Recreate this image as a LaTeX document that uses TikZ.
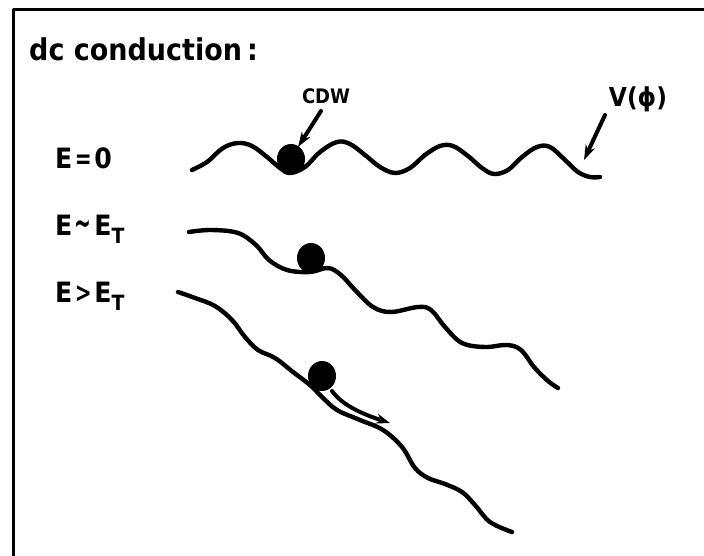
\documentclass[tikz,border=0pt]{standalone}
\usepackage{fontspec}
\usepackage{graphicx}
\setmainfont{DejaVu Sans Condensed}
\usetikzlibrary{arrows.meta,shapes.geometric}
\newcommand{\subT}{\raisebox{-8pt}{\fontsize{21}{21}\selectfont T}}
\newcommand{\relsym}[1]{\kern2.5pt\scalebox{0.8}[1]{#1}\kern2.5pt}
\begin{document}
\begin{tikzpicture}[x=1pt,y=-1pt,line cap=round,line join=round,
  frame/.style={line width=3pt},
  curve/.style={line width=4.4pt},
  ball/.style={ellipse,fill=black,inner sep=0pt,minimum width=28pt,minimum height=30pt},
  lbl/.style={font=\bfseries\fontsize{28}{28}\selectfont,inner sep=0pt,anchor=base west},
  small/.style={font=\bfseries\fontsize{20}{20}\selectfont,inner sep=0pt},
  pointer/.style={line width=4pt,-{Stealth[length=15pt,width=10pt]}}]
\useasboundingbox (0,0) rectangle (704,556);
\draw[frame] (704,10) -- (13,10) -- (13,556);

% headings and field labels
\node[lbl,font=\bfseries\fontsize{30}{30}\selectfont] (title) at (29,61) {dc conduction\,:};
\node[lbl] (e0) at (55,169) {E\relsym{=}0};
\node[lbl] (e1) at (55,236) {E\relsym{\scalebox{1}[1.3]{\textasciitilde}}E\subT};
\node[lbl] (e2) at (55,302) {E\relsym{>}E\subT};

% E = 0 : periodic pinning potential
\draw[curve] plot[smooth,tension=0.6] coordinates {
 (192,170) (207,162) (223,148) (238,143) (252,146) (267,157) (280,168)
 (290,173) (305,167) (320,152) (337,142) (350,144) (365,155) (380,167)
 (395,173) (410,168) (425,155) (440,146) (453,146) (468,156) (482,168)
 (494,174) (508,170) (522,157) (537,147) (550,147) (565,160) (578,172)
 (590,177) (600,177)};
\node[ball] (b0) at (291,159) {};

% E ~ E_T : tilted potential, CDW still held
\draw[curve] plot[smooth,tension=0.6] coordinates {
 (189,232) (211,230) (238,233) (256,245) (269,260) (287,270) (310,272)
 (328,268) (341,275) (355,290) (373,307) (391,312) (418,307) (431,310)
 (445,327) (462,343) (485,347) (507,345) (521,350) (534,367) (548,381)
 (558,388)};
\node[ball] (b1) at (311,258) {};

% E > E_T : CDW slides
\draw[curve] plot[smooth,tension=0.6] coordinates {
 (178,292) (195,298) (215,306) (232,320) (245,337) (258,350) (275,358)
 (293,372) (310,385) (322,397) (337,410) (360,420) (383,430) (402,447)
 (415,468) (428,478) (445,484) (462,492) (475,505) (490,522) (512,532)};
\node[ball] (b2) at (322,376) {};

% annotations
\node[small] (cdw) at (326,96) {CDW};
\node[lbl,anchor=center,font=\bfseries\fontsize{26}{26}\selectfont] (vphi) at (638,99) {V(\char"03D5)};
\coordinate (cdwtail) at (321,111);
\coordinate (cdwtip) at (298,147);
\draw[pointer] (cdwtail) -- (cdwtip);
\coordinate (vtail) at (605,115);
\coordinate (vtip) at (584,160);
\draw[pointer] (vtail) -- (vtip);

% sliding direction
\coordinate (mstart) at (332,391);
\coordinate (mend) at (390,423);
\draw[pointer,line width=4pt,-{Stealth[length=14pt,width=10pt]}] (mstart) .. controls (342,405) and (362,414) .. (mend);
\end{tikzpicture}
\end{document}
